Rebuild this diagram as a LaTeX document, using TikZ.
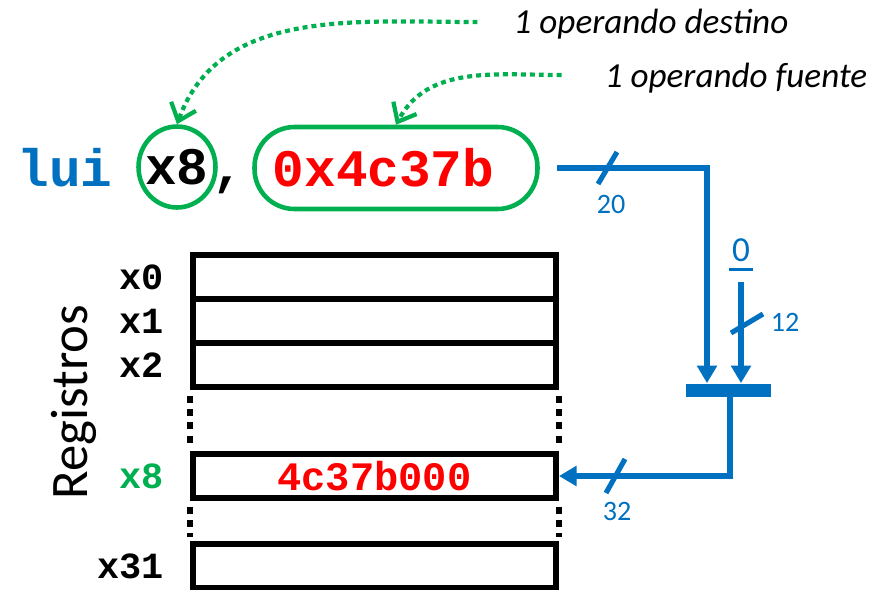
\documentclass[tikz,border=0pt]{standalone}
\usepackage{fontspec}
\setmainfont{Carlito}
\newfontfamily\codefont{Liberation Mono}
\usepackage{tikz}
\usetikzlibrary{positioning,calc,arrows.meta,shapes.geometric}

\definecolor{busblue}{RGB}{0,112,192}
\definecolor{opgreen}{RGB}{0,176,80}
\definecolor{valred}{RGB}{255,0,0}

\tikzset{
    code/.style={font=\codefont\bfseries\fontsize{30}{32}\selectfont},
    regname/.style={font=\codefont\bfseries\fontsize{21}{23}\selectfont},
    regbox/.style={draw, line width=3.4pt, minimum width=7.26cm, minimum height=0.88cm, inner sep=0pt},
    regdots/.style={line width=3.2pt, dash pattern=on 4pt off 3.5pt},
    oplink/.style={opgreen, line width=2.4pt, dash pattern=on 2.8pt off 2.3pt,
        -{Straight Barb[length=9pt,width=15pt]}},
    bus/.style={busblue, line width=2.9pt},
    busarrow/.style={bus, -{Triangle[length=10pt,width=11pt]}},
    buswidth/.style={busblue, font=\fontsize{16}{18}\selectfont},
}

\begin{document}
\begin{tikzpicture}[x=0.02cm, y=-0.02cm]
    \useasboundingbox (0,0) rectangle (871,589);

    % Instruction
    \node[code, busblue] (lui) at (65,168) {lui};
    \node[code, ellipse, draw=opgreen, line width=2.6pt, minimum width=1.54cm, minimum height=1.62cm, inner sep=0pt] (rd) at (177,167) {\makebox[0pt]{x8}};
    \node[code, anchor=base west, inner sep=0pt] (comma) at ($(rd.east |- rd.base)+(-6,0)$) {,};
    \node[code, valred, draw=opgreen, line width=2.6pt, rounded corners=0.8cm, minimum width=5.66cm, minimum height=1.64cm] (imm) at (396,168) {0x4c37b\kern0.5cm};

    % Operand notes
    \node[font=\itshape\fontsize{20}{22}\selectfont] (dst) at (651,24) {1 operando destino};
    \node[font=\itshape\fontsize{20}{22}\selectfont] (src) at (736,78) {1 operando fuente};
    \draw[oplink] ($(dst.west)+(-30,-2)$) to[out=180, in=70] (rd.north);
    \draw[oplink] ($(src.west)+(-37,-3)$) to[out=180, in=62] (imm.north);

    % Register file
    \foreach \r/\y in {0/277, 1/321, 2/365} {
        \node[regbox] (x\r) at (374.5,\y) {};
        \node[regname, left=0.4cm of x\r] (l\r) {x\r};
    }
    \node[regbox] (x8) at (374.5,476) {\codefont\bfseries\fontsize{23}{25}\selectfont\color{valred}4c37b000};
    \node[regname, opgreen, left=0.4cm of x8] (l8) {x8};
    \node[regbox] (x31) at (374.5,566) {};
    \node[regname, left=0.4cm of x31] (l31) {x31};
    \draw[regdots] ($(x2.south west)+(0,6)$) -- ($(x8.north west)+(0,-4)$);
    \draw[regdots] ($(x2.south east)+(0,6)$) -- ($(x8.north east)+(0,-4)$);
    \draw[regdots] ($(x8.south west)+(0,6)$) -- ($(x31.north west)+(0,-4)$);
    \draw[regdots] ($(x8.south east)+(0,6)$) -- ($(x31.north east)+(0,-4)$);
    \node[rotate=90, font=\fontsize{30}{32}\selectfont] (regs) at (74,402) {Registros};

    % Shift: imm << 12
    \node[fill=busblue, minimum width=1.7cm, minimum height=0.26cm, inner sep=0pt] (cat) at (728,390) {};
    \node[busblue, font=\fontsize{20}{22}\selectfont] (zero) at (741,250) {0};
    \draw[bus, line width=1.6pt] ($(zero.south west)+(3,2)$) -- ($(zero.south east)+(-3,2)$);
    \draw[busarrow] ($(imm.east)+(17,0)$) -| ($(cat.north)+(-21,0)$);
    \draw[busarrow] ($(zero.south)+(0,14)$) -- ($(cat.north)+(13,0)$);
    \draw[busarrow] ($(cat.south)+(2,0)$) |- (x8.east);

    % Bus widths
    \draw[bus] (598,184) -- (617,152);
    \node[buswidth] (w20) at (611,204) {20};
    \draw[bus] (731,333) -- (763,314);
    \node[buswidth] (w12) at (785,322) {12};
    \draw[bus] (606,493) -- (625,459);
    \node[buswidth] (w32) at (617,511) {32};
\end{tikzpicture}
\end{document}
